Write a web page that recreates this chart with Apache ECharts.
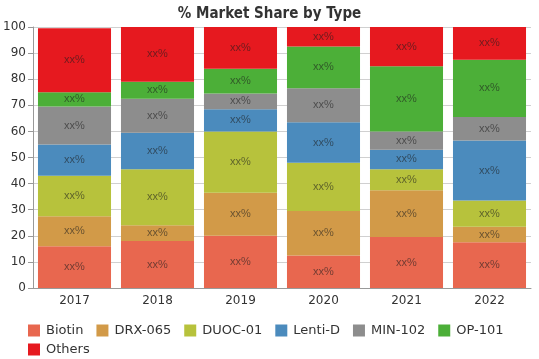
<!DOCTYPE html>
<html>
<head>
<meta charset="utf-8">
<script src="https://cdn.jsdelivr.net/npm/echarts@6/dist/echarts.min.js"></script>
<style>html,body{margin:0;padding:0;background:#fff}#c{width:539px;height:359px}</style>
</head>
<body>
<div id="c"></div>
<script>
var categories = ['2017', '2018', '2019', '2020', '2021', '2022'];
var seriesNames = ['Biotin', 'DRX-065', 'DUOC-01', 'Lenti-D', 'MIN-102', 'OP-101', 'Others'];
var biotin = [16, 18, 20, 12.5, 19.5, 17.5];
var drx065 = [11.5, 6, 16.5, 17, 18, 6];
var duoc01 = [15.5, 21.5, 23.5, 18.5, 8, 10];
var lentiD = [12, 14, 8.5, 15.5, 7.5, 23];
var min102 = [14.5, 13, 6, 13, 7, 9];
var op101 = [5.5, 6.5, 9.5, 16, 25, 22];
var others = [24.5, 21, 16, 7.5, 15, 12.5];
var yTicks = [0, 10, 20, 30, 40, 50, 60, 70, 80, 90, 100];

var seriesData = [biotin, drx065, duoc01, lentiD, min102, op101, others];
var colors = ['#e8674f', '#d29a48', '#b7c23c', '#4b8bbd', '#8d8d8d', '#4caf38', '#e6191f'];

var legendText = {fontFamily: 'DejaVu Sans', fontSize: 13, color: '#333', padding: [0, 0, 0, 1]};

var chart = echarts.init(document.getElementById('c'), null, {renderer: 'canvas'});
chart.setOption({
  animation: false,
  color: colors,
  title: {
    text: '% Market Share by Type',
    left: 'center',
    top: 2,
    textStyle: {fontFamily: 'Liberation Sans Narrow, DejaVu Sans Condensed, sans-serif', fontWeight: 'bold', fontSize: 15, color: '#333'}
  },
  grid: {left: 33, right: 8, top: 27, bottom: 71, containLabel: false},
  legend: [{
    data: seriesNames.slice(0, 6),
    left: 23,
    top: 324,
    padding: [0, 5, 0, 5],
    itemWidth: 12,
    itemHeight: 12,
    itemGap: 13,
    icon: 'rect',
    textStyle: legendText
  }, {
    data: seriesNames.slice(6),
    left: 23,
    top: 343,
    padding: [0, 5, 0, 5],
    itemWidth: 12,
    itemHeight: 12,
    itemGap: 13,
    icon: 'rect',
    textStyle: legendText
  }],
  xAxis: {
    type: 'category',
    data: categories,
    axisLine: {lineStyle: {color: '#999'}},
    axisTick: {show: false},
    axisLabel: {fontFamily: 'DejaVu Sans', fontSize: 12, color: '#333', margin: 7}
  },
  yAxis: {
    type: 'value',
    min: 0,
    max: 100,
    interval: 10,
    axisLine: {show: true, lineStyle: {color: '#999'}},
    axisTick: {show: true, length: 5, lineStyle: {color: '#999'}},
    splitLine: {show: true, lineStyle: {color: '#d0d0d0'}},
    axisLabel: {fontFamily: 'DejaVu Sans', fontSize: 12, color: '#333', margin: 7,
      formatter: function (v) { return yTicks.indexOf(v) >= 0 ? String(v) : ''; }}
  },
  series: seriesNames.map(function (name, i) {
    return {
      name: name,
      type: 'bar',
      stack: 'total',
      barCategoryGap: '12%',
      data: seriesData[i],
      itemStyle: {color: colors[i]},
      label: {
        show: true,
        position: 'inside',
        formatter: 'xx%',
        fontFamily: 'Liberation Sans, Arial, sans-serif',
        fontSize: 11,
        color: 'rgba(30,30,30,0.6)'
      }
    };
  })
});
</script>
</body>
</html>
